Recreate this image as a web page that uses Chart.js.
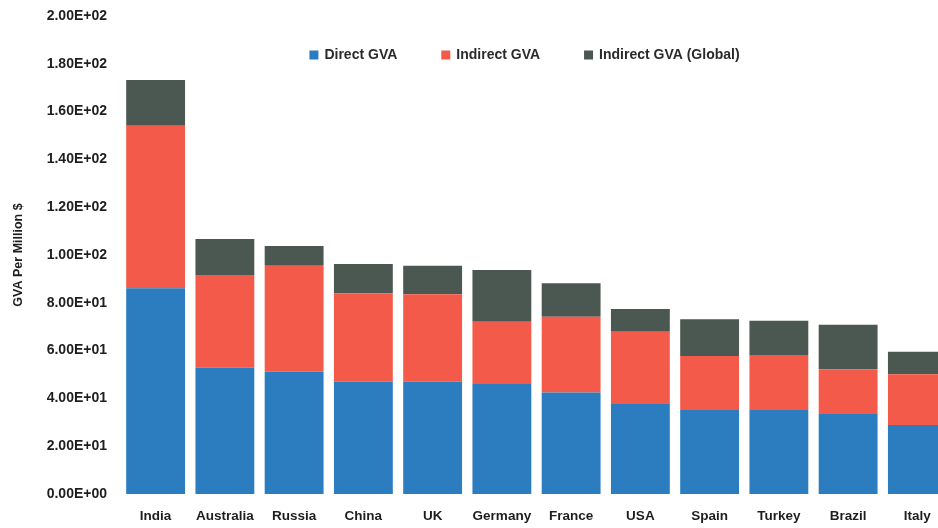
<!DOCTYPE html>
<html>
<head>
<meta charset="utf-8">
<script src="https://cdn.jsdelivr.net/npm/chart.js@4/dist/chart.umd.min.js"></script>
<style>
  html, body { margin: 0; padding: 0; background: #ffffff; overflow: hidden; }
  #wrap { width: 958px; height: 528px; position: relative; }
</style>
</head>
<body>
<div id="wrap"><canvas id="chart"></canvas></div>
<script>
// Countries along the x axis
const countries = ['India', 'Australia', 'Russia', 'China', 'UK', 'Germany', 'France', 'USA', 'Spain', 'Turkey', 'Brazil', 'Italy'];

// GVA per million $ for each component, stacked per country
const directGVA         = [86.1, 52.8, 51.2, 47.0, 47.0, 46.0, 42.5, 37.7, 35.1, 35.1, 33.8, 28.9];
const indirectGVA       = [68.0, 38.8, 44.3, 37.0, 36.6, 26.1, 31.7, 30.2, 22.6, 23.1, 18.4, 21.2];
const indirectGVAGlobal = [19.1, 15.1,  8.3, 12.2, 11.9, 21.6, 14.0,  9.5, 15.4, 14.3, 18.6,  9.4];

// Value axis ticks
const yTicks = [0, 20, 40, 60, 80, 100, 120, 140, 160, 180, 200];

// Excel-style scientific notation: 1.20E+02
function sci(v) {
  const [m, e] = Number(v).toExponential(2).split('e');
  const sign = e[0] === '-' ? '-' : '+';
  const exp = e.replace(/^[+-]/, '').padStart(2, '0');
  return m + 'E' + sign + exp;
}

const FONT = "'Liberation Sans', Arial, sans-serif";

// Legend drawn as one row inside the plot, near its top
const insideLegend = {
  id: 'insideLegend',
  afterDraw(chart, args, opts) {
    const ctx = chart.ctx;
    const area = chart.chartArea;
    const box = opts.boxSize, gap = opts.boxGap, itemGap = opts.itemGap;
    ctx.save();
    ctx.font = `bold ${opts.fontSize}px ${FONT}`;
    ctx.textBaseline = 'middle';
    ctx.textAlign = 'left';
    const items = chart.data.datasets.map(ds => ({
      text: ds.label, color: ds.backgroundColor, w: ctx.measureText(ds.label).width
    }));
    const total = items.reduce((s, it) => s + box + gap + it.w, 0) + itemGap * (items.length - 1);
    let x = (area.left + area.right) / 2 - total / 2 + opts.shiftX;
    const y = area.top + opts.offsetY;
    items.forEach(it => {
      ctx.fillStyle = it.color;
      ctx.fillRect(x, y - box / 2, box, box);
      x += box + gap;
      ctx.fillStyle = '#2a2a2a';
      ctx.fillText(it.text, x, y);
      x += it.w + itemGap;
    });
    ctx.restore();
  }
};

new Chart(document.getElementById('chart'), {
  type: 'bar',
  data: {
    labels: countries,
    datasets: [
      { label: 'Direct GVA', data: directGVA, backgroundColor: '#2b7dbf' },
      { label: 'Indirect GVA', data: indirectGVA, backgroundColor: '#f45a49' },
      { label: 'Indirect GVA (Global)', data: indirectGVAGlobal, backgroundColor: '#4b5751' }
    ]
  },
  plugins: [insideLegend],
  options: {
    responsive: true,
    maintainAspectRatio: false,
    animation: false,
    layout: { padding: { top: 16, right: 6, bottom: 4, left: 0 } },
    datasets: { bar: { barPercentage: 0.85, categoryPercentage: 1.0 } },
    plugins: {
      tooltip: { enabled: false },
      legend: { display: false },
      insideLegend: { boxSize: 9, boxGap: 6, itemGap: 44, fontSize: 14, offsetY: 39, shiftX: -12 }
    },
    scales: {
      x: {
        stacked: true,
        grid: { display: false, drawTicks: false },
        border: { display: false },
        afterFit: (scale) => {
          scale.height = 30;
          scale.paddingLeft = 0;
          scale.paddingRight = 0;
        },
        ticks: {
          padding: 14,
          color: '#1e1e1e',
          font: { family: FONT, size: 13.5, weight: 'bold' }
        }
      },
      y: {
        stacked: true,
        min: 0,
        max: 200,
        grid: { display: false, drawTicks: false },
        border: { display: false },
        afterBuildTicks: (scale) => { scale.ticks = yTicks.map(v => ({ value: v })); },
        afterFit: (scale) => {
          scale.width = 121;
          scale.paddingTop = 0;
          scale.paddingBottom = 0;
        },
        ticks: {
          padding: 14,
          color: '#1e1e1e',
          font: { family: FONT, size: 14, weight: 'bold' },
          callback: (v) => sci(v)
        },
        title: {
          display: true,
          text: 'GVA Per Million $',
          color: '#1e1e1e',
          padding: { top: 11, bottom: 0 },
          font: { family: FONT, size: 12.5, weight: 'bold' }
        }
      }
    }
  }
});
</script>
</body>
</html>
